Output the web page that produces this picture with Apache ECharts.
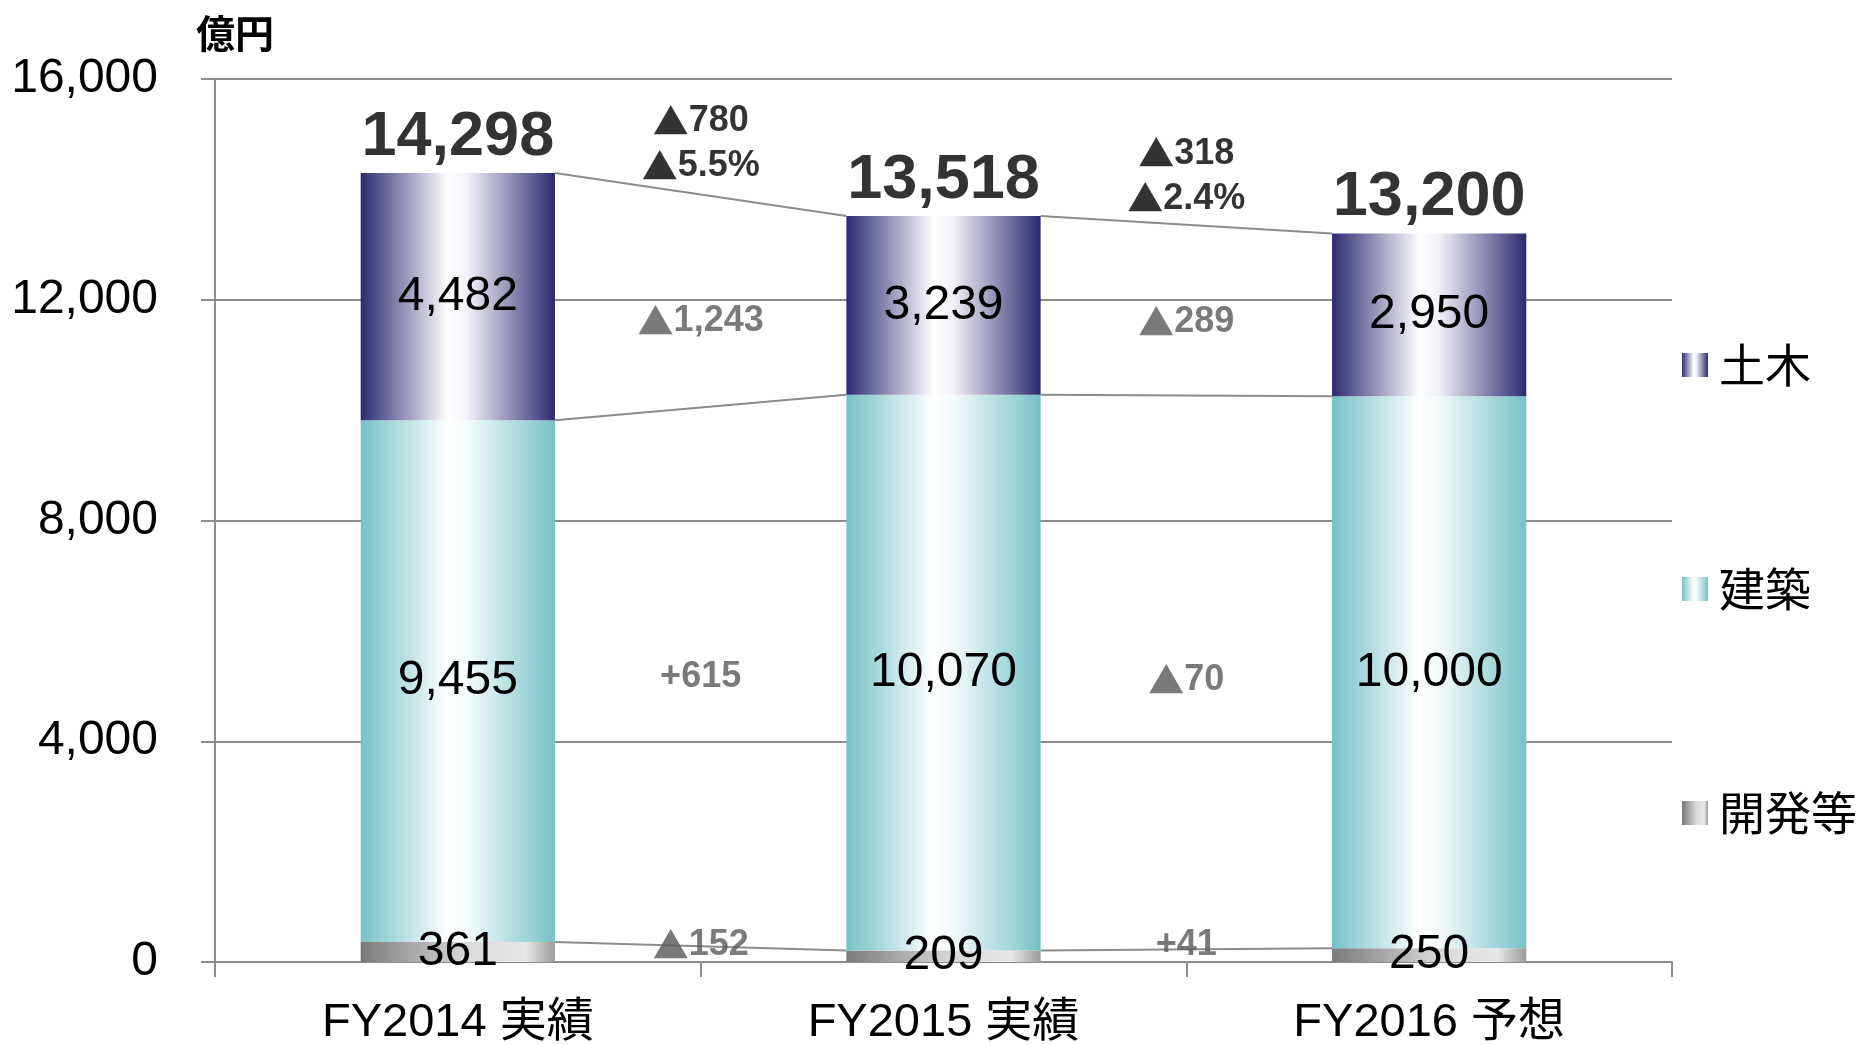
<!DOCTYPE html>
<html>
<head>
<meta charset="utf-8">
<script src="https://cdn.jsdelivr.net/npm/echarts@6/dist/echarts.min.js"></script>
<style>
  html, body { margin: 0; padding: 0; background: #fff; }
  #chart { width: 1859px; height: 1045px; }
</style>
</head>
<body>
<div id="chart"></div>
<script>
var categories = ['FY2014 実績', 'FY2015 実績', 'FY2016 予想']
var seriesNames = ['開発等', '建築', '土木']
var devValues = [361, 209, 250]
var archValues = [9455, 10070, 10000]
var civilValues = [4482, 3239, 2950]
var totals = [14298, 13518, 13200]
var yTicks = [0, 4000, 8000, 12000, 16000]

// changes between years (shown between the bars)
var totalChange = ['▲780', '▲318']
var totalChangePct = ['▲5.5%', '▲2.4%']
var civilChange = ['▲1,243', '▲289']
var archChange = ['+615', '▲70']
var devChange = ['▲152', '+41']

// vertical anchors (in axis units) for the change annotations
var totalChangeY = [14830, 14240]
var civilChangeY = [11610, 11600]
var archChangeY = [5160, 5110]
var devChangeY = [310, 310]

var font = "'Liberation Sans', 'Noto Sans CJK JP', sans-serif"
var cjk = "'Noto Sans CJK JP', sans-serif"
var gray = '#8c8c8c'

function fmt(v) {
  return v.toLocaleString('en-US')
}

// big triangle from the CJK font, digits from the latin one
// suffix picks the colour: b = black, g = dark grey
function richText(t, c) {
  if (t.charAt(0) === '▲') return '{t' + c + '|▲}{n' + c + '|' + t.slice(1) + '}'
  return '{n' + c + '|' + t + '}'
}

function hGradient(stops) {
  return new echarts.graphic.LinearGradient(0, 0, 1, 0, stops.map(function (s) {
    return { offset: s[0], color: s[1] }
  }))
}

var barColors = [
  hGradient([[0, '#7a7a7a'], [0.55, '#d9d9d9'], [0.85, '#e8e8e8'], [1, '#9a9a9a']]),
  hGradient([[0, '#76c2c7'], [0.45, '#ffffff'], [0.55, '#f4fbfb'], [1, '#76c2c7']]),
  hGradient([[0, '#2c2a70'], [0.45, '#ffffff'], [0.55, '#f2f1f8'], [1, '#2c2a70']])
]
var segValues = [devValues, archValues, civilValues]

// cumulative levels for the connecting lines
var levels = [[], [], []]
for (var i = 0; i < categories.length; i++) {
  var acc = 0
  for (var s = 0; s < 3; s++) {
    acc += segValues[s][i]
    levels[s].push(acc)
  }
}
var connectData = []
for (var s2 = 0; s2 < 3; s2++) {
  for (var k = 0; k < categories.length - 1; k++) {
    connectData.push([k, levels[s2][k], levels[s2][k + 1]])
  }
}

function annot(texts, ys) {
  return texts.map(function (t, idx) {
    return {
      value: [idx + 1, ys[idx]],
      label: { formatter: richText(t, 'g') }
    }
  })
}
var annotData = []
  .concat(totalChange.map(function (t, idx) {
    return {
      value: [idx + 1, totalChangeY[idx]],
      label: { formatter: richText(t, 'b') + '\n' + richText(totalChangePct[idx], 'b') }
    }
  }))
  .concat(annot(civilChange, civilChangeY))
  .concat(annot(archChange, archChangeY))
  .concat(annot(devChange, devChangeY))

var barSeries = seriesNames.map(function (name, idx) {
  return {
    name: name,
    type: 'bar',
    stack: 'total',
    barWidth: '40%',
    data: segValues[idx],
    itemStyle: { color: barColors[idx] },
    label: {
      show: true,
      position: 'inside',
      color: '#000',
      fontFamily: font,
      fontSize: 48,
      formatter: function (p) { return fmt(p.value) }
    },
    z: 3
  }
})

var chart = echarts.init(document.getElementById('chart'), null, { renderer: 'canvas' })
chart.setOption({
  animation: false,
  backgroundColor: '#fff',
  title: {
    text: '億円',
    left: 191,
    top: 9,
    textStyle: { fontFamily: cjk, fontSize: 39, fontWeight: 'bold', color: '#000' }
  },
  grid: { left: 215, right: 187, top: 79, bottom: 83, outerBoundsMode: 'none' },
  legend: {
    data: ['土木', '建築', '開発等'],
    orient: 'vertical',
    left: 1677,
    top: 337,
    icon: 'rect',
    itemWidth: 26,
    itemHeight: 24,
    itemGap: 178,
    textStyle: { fontFamily: cjk, fontSize: 46, color: '#000', padding: [0, 0, 0, 6] }
  },
  xAxis: [{
    type: 'category',
    data: categories,
    axisLine: { lineStyle: { color: gray, width: 2 } },
    axisTick: { show: true, length: 15, lineStyle: { color: gray, width: 2 } },
    axisLabel: { color: '#000', fontFamily: font, fontSize: 47, margin: 38 }
  }, {
    type: 'value',
    min: 0,
    max: categories.length,
    show: false
  }],
  yAxis: {
    type: 'value',
    min: yTicks[0],
    max: yTicks[yTicks.length - 1],
    interval: 4000,
    axisLine: { show: true, lineStyle: { color: gray, width: 2 } },
    axisTick: { show: true, length: 14, lineStyle: { color: gray, width: 2 } },
    splitLine: { lineStyle: { color: gray, width: 2 } },
    axisLabel: {
      color: '#000', fontFamily: font, fontSize: 48, margin: 57,
      formatter: function (v) { return fmt(v) }
    }
  },
  series: barSeries.concat([{
    name: 'connect',
    type: 'custom',
    silent: true,
    data: connectData,
    encode: { x: 0, y: [1, 2] },
    renderItem: function (params, api) {
      var a = api.coord([api.value(0), api.value(1)])
      var b = api.coord([api.value(0) + 1, api.value(2)])
      var half = api.size([1, 0])[0] * 0.2
      return {
        type: 'line',
        shape: { x1: a[0] + half, y1: a[1], x2: b[0] - half, y2: b[1] },
        style: { stroke: gray, lineWidth: 2 }
      }
    },
    z: 2
  }, {
    name: 'total',
    type: 'scatter',
    symbolSize: 0,
    silent: true,
    data: totals,
    label: {
      show: true,
      position: 'top',
      distance: 4,
      color: '#000',
      fontFamily: font,
      fontSize: 63,
      fontWeight: 'bold',
      formatter: function (p) { return fmt(p.value) }
    },
    z: 5
  }, {
    name: 'change',
    type: 'scatter',
    xAxisIndex: 1,
    symbolSize: 0,
    silent: true,
    data: annotData,
    label: {
      show: true,
      position: 'inside',
      align: 'center',
      rich: {
        tb: { fontFamily: cjk, fontSize: 36, lineHeight: 45, color: '#000' },
        nb: { fontFamily: font, fontSize: 36, fontWeight: 'bold', lineHeight: 45, color: '#000' },
        tg: { fontFamily: cjk, fontSize: 36, lineHeight: 45, color: '#595959' },
        ng: { fontFamily: font, fontSize: 36, fontWeight: 'bold', lineHeight: 45, color: '#595959' }
      }
    },
    z: 5
  }])
})
</script>
</body>
</html>
